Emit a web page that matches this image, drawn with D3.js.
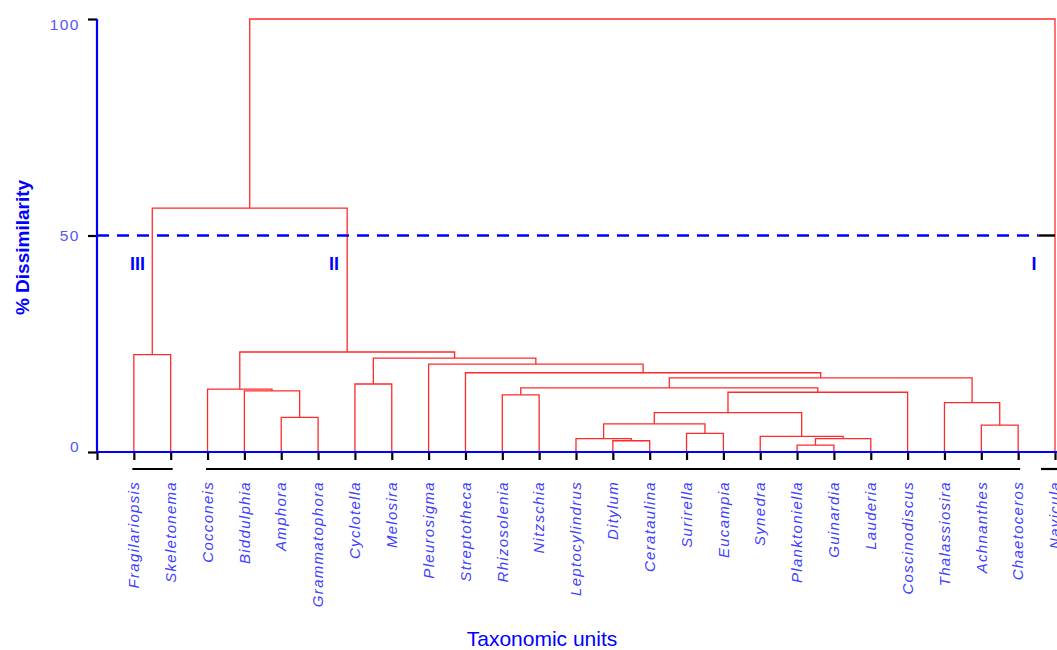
<!DOCTYPE html>
<html>
<head>
<meta charset="utf-8">
<script src="https://cdn.jsdelivr.net/npm/d3@7"></script>
<style>
  html,body{margin:0;padding:0;background:#fff;}
  svg{display:block;font-family:"Liberation Sans",Arial,sans-serif;}
</style>
</head>
<body>
<svg id="chart" width="1057" height="650"></svg>
<script>
// ---------- DATA ----------
const taxa = ["Fragilariopsis","Skeletonema","Cocconeis","Biddulphia","Amphora","Grammatophora",
  "Cyclotella","Melosira","Pleurosigma","Streptotheca","Rhizosolenia","Nitzschia","Leptocylindrus",
  "Ditylum","Cerataulina","Surirella","Eucampia","Synedra","Planktoniella","Guinardia","Lauderia",
  "Coscinodiscus","Thalassiosira","Achnanthes","Chaetoceros","Navicula"];

// merge list: [left child, right child] (leaf name or "m<index>") and merge height (% dissimilarity)
const mergeLeft  = ["Planktoniella","Ditylum","Leptocylindrus","m0","Synedra","Surirella","Achnanthes",
  "m2","Amphora","m7","Thalassiosira","Rhizosolenia","m9","Biddulphia","Cocconeis","m11","Cyclotella",
  "m15","Streptotheca","Pleurosigma","m16","Fragilariopsis","m14","m21","m23"];
const mergeRight = ["Guinardia","Cerataulina","m1","Lauderia","m3","Eucampia","Chaetoceros",
  "m5","Grammatophora","m4","m6","Nitzschia","Coscinodiscus","m8","m13","m12","Melosira",
  "m10","m17","m18","m19","Skeletonema","m20","m22","Navicula"];
const mergeHeight = [1.6,2.6,3.1,3.1,3.6,4.3,6.2,6.5,8.0,9.1,11.4,13.2,13.8,14.1,14.5,14.8,15.7,
  17.1,18.3,20.3,21.7,22.5,23.1,56.3,100];

const yTicks = [0,50,100];
const cutLevel = 50;
const groupNames = ["III","II","I"];
const groups = [["Fragilariopsis","Skeletonema"],["Cocconeis","Chaetoceros"],["Navicula","Navicula"]];
const groupLabelPos = [1.1, 6.43, 25.43]; // leaf-index positions for roman numerals

// ---------- LAYOUT ----------
const svg = d3.select("#chart");
const x = d3.scaleLinear().domain([0, taxa.length]).range([97, 1055]);
const y = d3.scaleLinear().domain([0, 100]).range([452, 19]);
const yLab = d3.scaleLinear().domain([0, 100]).range([446, 24]);

const RED = "#ff2a2a", BLUE = "#0000ff", LBLUE = "#5555ff";

// positions of nodes
const pos = {};
taxa.forEach((t, i) => pos[t] = {x: x(i + 1), h: 0});
mergeHeight.forEach((h, i) => {
  const a = pos[mergeLeft[i]], b = pos[mergeRight[i]];
  pos["m" + i] = {x: (a.x + b.x) / 2, h: h, a: a, b: b};
});

// dendrogram links
const gTree = svg.append("g").attr("fill", "none").attr("stroke", RED).attr("stroke-width", 1.3);
mergeHeight.forEach((h, i) => {
  const n = pos["m" + i], a = n.a, b = n.b;
  const path = d3.path();
  path.moveTo(a.x, y(a.h));
  path.lineTo(a.x, y(h));
  path.lineTo(b.x, y(h));
  path.lineTo(b.x, y(b.h));
  gTree.append("path").attr("d", path.toString());
});

// cut line
svg.append("line")
  .attr("x1", x(0)).attr("x2", x(taxa.length - 0.45))
  .attr("y1", y(cutLevel)).attr("y2", y(cutLevel))
  .attr("stroke", BLUE).attr("stroke-width", 2.6).attr("stroke-dasharray", "12,8");
svg.append("line")
  .attr("x1", x(taxa.length - 0.45)).attr("x2", x(taxa.length))
  .attr("y1", y(cutLevel)).attr("y2", y(cutLevel))
  .attr("stroke", "#000").attr("stroke-width", 2.4);

// x axis
const xAxis = d3.axisBottom(x).tickValues(d3.range(0, taxa.length + 1)).tickSize(8).tickFormat("");
const gx = svg.append("g").attr("transform", `translate(0,${y(0)})`).call(xAxis);
gx.select(".domain").remove();
gx.selectAll(".tick line").attr("stroke", "#000").attr("stroke-width", 2.2);
svg.append("line").attr("x1", x(0)).attr("x2", 1057).attr("y1", y(0)).attr("y2", y(0))
  .attr("stroke", BLUE).attr("stroke-width", 2.2);

// y axis
const yAxis = d3.axisLeft(y).tickValues(yTicks).tickSize(9).tickFormat("");
const gy = svg.append("g").attr("transform", `translate(${x(0)},0)`).call(yAxis);
gy.select(".domain").remove();
gy.selectAll(".tick line").attr("stroke", "#000").attr("stroke-width", 2.2);
svg.append("line").attr("x1", x(0)).attr("x2", x(0)).attr("y1", y(100)).attr("y2", y(0))
  .attr("stroke", BLUE).attr("stroke-width", 2.2);
svg.append("g").selectAll("text").data(yTicks).join("text")
  .attr("x", x(0) - 17).attr("y", d => yLab(d)).attr("dy", "0.36em")
  .attr("text-anchor", "end").attr("fill", LBLUE)
  .style("font-size", "15.5px").style("letter-spacing", "1.5px")
  .text(d => d);

// group underlines
const gGroups = svg.append("g").attr("stroke", "#000").attr("stroke-width", 2.2);
groups.forEach(([a, b], i) => {
  const ia = taxa.indexOf(a) + 1, ib = taxa.indexOf(b) + 1;
  const x1 = i === 2 ? x(ia) - 14 : x(ia) - 1.5;
  const x2 = i === 2 ? 1057 : x(ib) + 2;
  gGroups.append("line").attr("x1", x1).attr("x2", x2).attr("y1", 469).attr("y2", 469);
});

// roman numerals
svg.append("g").selectAll("text").data(groupNames).join("text")
  .attr("x", (d, i) => x(groupLabelPos[i])).attr("y", y(cutLevel) + 34)
  .attr("text-anchor", "middle").attr("fill", BLUE)
  .style("font-size", "18px").style("font-weight", "bold")
  .text(d => d);

// leaf labels
svg.append("g").selectAll("text").data(taxa).join("text")
  .attr("transform", (d, i) => `translate(${x(i + 1)},481) rotate(-90)`)
  .attr("dy", "0.35em").attr("text-anchor", "end")
  .attr("fill", "#4040ff")
  .style("font-size", "15px").style("font-style", "italic").style("letter-spacing", "1.3px")
  .text(d => d);

// axis titles
svg.append("text")
  .attr("transform", `translate(22,${(y(0) + y(100)) / 2 + 12}) rotate(-90)`)
  .attr("dy", "0.35em").attr("text-anchor", "middle").attr("fill", BLUE)
  .style("font-size", "19px").style("font-weight", "bold")
  .text("% Dissimilarity");
svg.append("text")
  .attr("x", 542).attr("y", 646).attr("text-anchor", "middle").attr("fill", BLUE)
  .style("font-size", "21px")
  .text("Taxonomic units");
</script>
</body>
</html>
